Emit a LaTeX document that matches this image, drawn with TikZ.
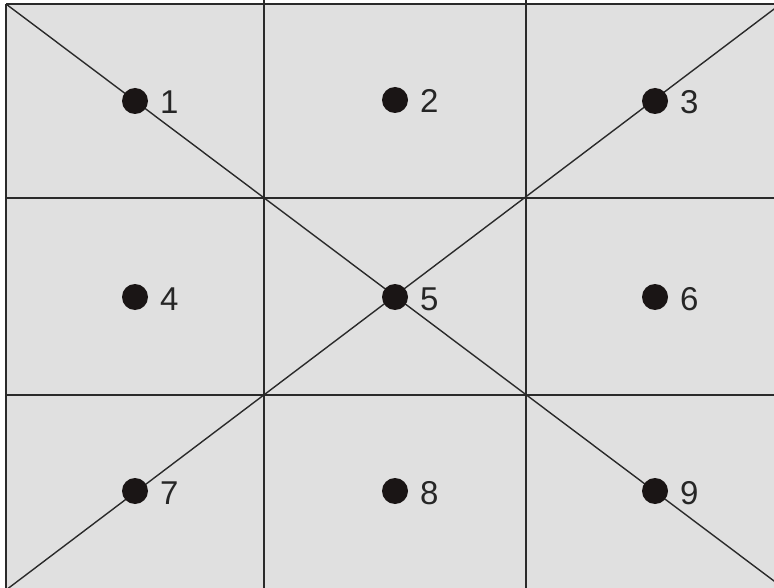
\documentclass[tikz,border=0pt]{standalone}
\usepackage{fontspec}
\setmainfont{Liberation Sans}
\definecolor{cellgray}{HTML}{E0E0E0}
\definecolor{linecol}{HTML}{2A2A2A}
\definecolor{dotcol}{HTML}{1A1515}
\begin{document}
\begin{tikzpicture}[x=1pt,y=-1pt,
  gridline/.style={draw=linecol,line width=1.6pt},
  diagline/.style={draw=linecol,line width=1.4pt},
  pt/.style={circle,fill=dotcol,minimum size=26pt,inner sep=0pt},
  lab/.style={anchor=base west,inner sep=0pt,font=\fontsize{33}{33}\selectfont,text=black!85}]
\useasboundingbox (0,0) rectangle (774,588);
\clip (0,0) rectangle (774,588);
\fill[cellgray] (6,4) rectangle (800,600);
% corners
\coordinate (TL) at (6,4);
\coordinate (BR) at (786,590);
\coordinate (BL) at (6,590);
\coordinate (TR) at (786,0);
% grid
\draw[gridline] (6,4) -- (800,4);
\draw[gridline] (6,4) -- (6,600);
\draw[gridline] (264,0) -- (264,600);
\draw[gridline] (526,0) -- (526,600);
\draw[gridline] (6,198) -- (800,198);
\draw[gridline] (6,395) -- (800,395);
% diagonals
\draw[diagline] (TL) -- (BR);
\draw[diagline] (BL) -- (TR);
% points
\foreach \n/\x/\y in {1/135/101,2/395/100,3/655/101,4/135/297,5/395/297,6/655/297,7/135/491,8/395/491,9/655/491}{
  \node[pt] (p\n) at (\x,\y) {};
  \node[lab] (l\n) at (\x+25,\y+13) {\n};
}
\end{tikzpicture}
\end{document}
